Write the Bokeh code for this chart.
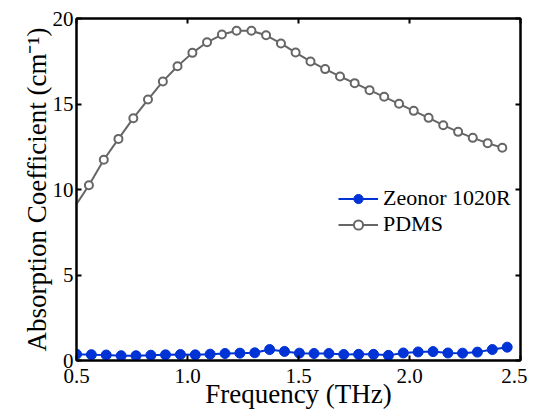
from bokeh.plotting import figure
from bokeh.models import (Range1d, LinearAxis, FixedTicker, NumeralTickFormatter,
                          Legend, LegendItem)
from bokeh.embed import file_html
from bokeh.resources import INLINE

# ---- data ----
freq_zeonor = [0.500, 0.567, 0.634, 0.701, 0.768, 0.835, 0.901, 0.968, 1.035, 1.102,
               1.169, 1.236, 1.303, 1.370, 1.437, 1.504, 1.570, 1.637, 1.704, 1.771,
               1.838, 1.905, 1.972, 2.039, 2.106, 2.173, 2.239, 2.306, 2.373, 2.440]
alpha_zeonor = [0.37, 0.34, 0.32, 0.28, 0.28, 0.31, 0.33, 0.35, 0.33, 0.37,
                0.41, 0.43, 0.45, 0.64, 0.53, 0.43, 0.41, 0.41, 0.35, 0.36,
                0.36, 0.30, 0.44, 0.50, 0.52, 0.44, 0.43, 0.49, 0.64, 0.78]

freq_pdms = [0.556, 0.623, 0.689, 0.756, 0.822, 0.889, 0.955, 1.022, 1.088, 1.155,
             1.221, 1.288, 1.354, 1.421, 1.487, 1.554, 1.620, 1.687, 1.753, 1.820,
             1.886, 1.953, 2.019, 2.086, 2.152, 2.219, 2.285, 2.352, 2.418]
alpha_pdms = [10.25, 11.74, 12.96, 14.17, 15.26, 16.32, 17.21, 17.99, 18.61, 19.06,
              19.28, 19.28, 19.02, 18.54, 18.01, 17.49, 17.04, 16.61, 16.22, 15.81,
              15.42, 15.01, 14.60, 14.19, 13.76, 13.37, 13.02, 12.71, 12.44]
# line continues (without marker) below the 0.5 THz edge
freq_pdms_lead = [0.490]
alpha_pdms_lead = [8.95]

x_ticks = [0.5, 1.0, 1.5, 2.0, 2.5]
y_ticks = [0, 5, 10, 15, 20]
x_label = "Frequency (THz)"
y_label = "Absorption Coefficient (cm\u207b\u00b9)"
series_names = ["Zeonor 1020R", "PDMS"]

BLUE = "#0033d6"
GRAY = "#666666"
FONT = "Liberation Serif"

p = figure(width=527, height=413, output_backend="svg", toolbar_location=None,
           x_range=Range1d(0.5, 2.5), y_range=Range1d(0, 20),
           min_border_left=76, min_border_right=7, min_border_top=18,
           min_border_bottom=53)
p.xgrid.visible = False
p.ygrid.visible = False
p.outline_line_color = "black"
p.outline_line_width = 2
p.background_fill_color = "white"
p.border_fill_color = "white"

bottom_ax = p.below[0]
left_ax = p.left[0]


def style_axis(ax, ticks, fmt, show_labels, standoff):
    ax.ticker = FixedTicker(ticks=ticks)
    ax.formatter = NumeralTickFormatter(format=fmt)
    ax.axis_line_color = "black"
    ax.axis_line_width = 2
    ax.major_tick_line_color = "black"
    ax.major_tick_line_width = 2
    ax.major_tick_in = 5
    ax.major_tick_out = 0
    ax.minor_tick_line_color = None
    ax.major_label_text_font = FONT
    ax.major_label_standoff = standoff
    if show_labels:
        ax.major_label_text_font_size = "21px"
        ax.major_label_text_color = "black"
    else:
        ax.major_label_text_font_size = "1px"
        ax.major_label_text_color = None
        ax.major_label_standoff = 0


style_axis(bottom_ax, x_ticks, "0.0", True, 8)
style_axis(left_ax, y_ticks, "0", True, 3)
top_ax = LinearAxis()
right_ax = LinearAxis()
style_axis(top_ax, x_ticks, "0.0", False, 0)
style_axis(right_ax, y_ticks, "0", False, 0)
p.add_layout(top_ax, "above")
p.add_layout(right_ax, "right")

for ax, lab, so in ((bottom_ax, x_label, -7), (left_ax, y_label, -2)):
    ax.axis_label = lab
    ax.axis_label_text_font = FONT
    ax.axis_label_text_font_size = "27px"
    ax.axis_label_text_font_style = "normal"
    ax.axis_label_text_color = "black"
    ax.axis_label_standoff = so

# ---- series ----
z_line = p.line(freq_zeonor, alpha_zeonor, line_color=BLUE, line_width=2)
z_pts = p.scatter(freq_zeonor, alpha_zeonor, size=10, marker="circle",
                  fill_color=BLUE, line_color=BLUE, line_width=1)

p_line = p.line(freq_pdms_lead + freq_pdms, alpha_pdms_lead + alpha_pdms,
                line_color=GRAY, line_width=2)
p_pts = p.scatter(freq_pdms, alpha_pdms, size=8, marker="circle",
                  fill_color="white", line_color=GRAY, line_width=2)

legend = Legend(items=[LegendItem(label=series_names[0], renderers=[z_line, z_pts]),
                       LegendItem(label=series_names[1], renderers=[p_line, p_pts])],
                location=(262, 123))
legend.border_line_color = None
legend.background_fill_alpha = 0
legend.padding = 0
legend.margin = 0
legend.spacing = 0
legend.glyph_width = 40
legend.glyph_height = 23
legend.label_height = 23
legend.label_standoff = 5
legend.label_text_font = FONT
legend.label_text_font_size = "22px"
legend.label_text_color = "black"
p.add_layout(legend, "center")

open("out.html", "w").write(file_html(p, INLINE))
